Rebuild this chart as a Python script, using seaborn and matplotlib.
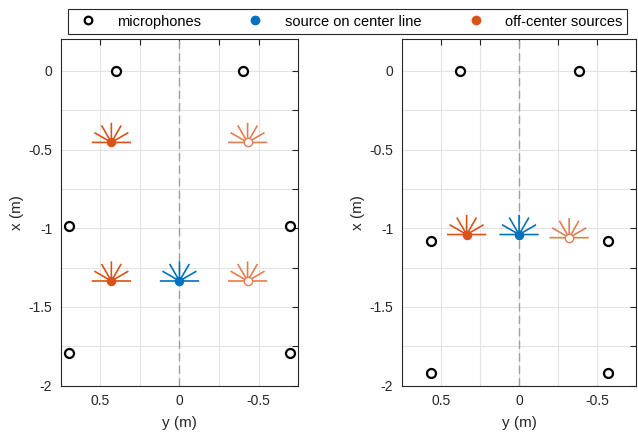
import numpy as np
import pandas as pd
import matplotlib
matplotlib.use("Agg")
import matplotlib.pyplot as plt
from matplotlib.path import Path
from matplotlib.lines import Line2D
import seaborn as sns

# positions (horizontal axis = y, vertical axis = x)
left_mic_y = [0.40, -0.40, 0.70, -0.70, 0.70, -0.70]
left_mic_x = [0.0, 0.0, -0.985, -0.985, -1.79, -1.79]
left_center_y = [0.0]
left_center_x = [-1.335]
left_off_y = [0.43, 0.43]
left_off_x = [-0.455, -1.335]
left_mirror_y = [-0.43, -0.43]
left_mirror_x = [-0.455, -1.335]

right_mic_y = [0.38, -0.38, 0.565, -0.565, 0.565, -0.565]
right_mic_x = [0.0, 0.0, -1.08, -1.08, -1.92, -1.92]
right_center_y = [0.0]
right_center_x = [-1.04]
right_off_y = [0.335]
right_off_x = [-1.04]
right_mirror_y = [-0.32]
right_mirror_x = [-1.06]

legend_labels = ["microphones", "source on center line", "off-center sources"]

blue = "#0072BD"
orange = "#D95319"
light_orange = "#E37E52"
dark = "#262626"

sns.set_style("white")
plt.rcParams["font.family"] = ["Liberation Sans", "DejaVu Sans"]
plt.rcParams["axes.unicode_minus"] = False

# half "sunburst" marker: rays at 0..180 deg
verts, codes = [], []
for a in np.deg2rad([0, 30, 60, 90, 120, 150, 180]):
    verts += [(0, 0), (np.cos(a), np.sin(a))]
    codes += [Path.MOVETO, Path.LINETO]
rays = Path(verts, codes)

fig = plt.figure(figsize=(6.38, 4.41), dpi=100)
ax1 = fig.add_axes([0.0951, 0.1254, 0.3724, 0.7855])
ax2 = fig.add_axes([0.6296, 0.1254, 0.3680, 0.7855])


def draw_panel(ax, mic_y, mic_x, cy, cx, oy, ox, my, mx):
    ax.axvline(0, color="#a0a0a0", lw=1.0, ls=(0, (6, 3)), zorder=1)
    for yy, xx, c in [(cy, cx, blue), (oy, ox, orange), (my, mx, light_orange)]:
        df = pd.DataFrame({"y": yy, "x": xx})
        sns.scatterplot(data=df, x="y", y="x", ax=ax, marker=rays, s=800,
                        facecolor="none", edgecolor=c, linewidth=1.2, zorder=3)
    sns.scatterplot(data=pd.DataFrame({"y": cy, "x": cx}), x="y", y="x", ax=ax,
                    marker="o", s=36, color=blue, edgecolor=blue, linewidth=0.8, zorder=4)
    sns.scatterplot(data=pd.DataFrame({"y": oy, "x": ox}), x="y", y="x", ax=ax,
                    marker="o", s=36, color=orange, edgecolor=orange, linewidth=0.8, zorder=4)
    sns.scatterplot(data=pd.DataFrame({"y": my, "x": mx}), x="y", y="x", ax=ax,
                    marker="o", s=36, facecolor="white", edgecolor=light_orange,
                    linewidth=1.0, zorder=4)
    sns.scatterplot(data=pd.DataFrame({"y": mic_y, "x": mic_x}), x="y", y="x", ax=ax,
                    marker="o", s=42, facecolor="white", edgecolor="black",
                    linewidth=1.6, zorder=4, clip_on=False)

    ax.set_xlim(0.75, -0.75)
    ax.set_ylim(-2, 0.2)
    xt = [0.5, 0.25, 0, -0.25, -0.5]
    ax.set_xticks(xt)
    ax.set_xticklabels(["0.5", "", "0", "", "-0.5"])
    yt = [0, -0.25, -0.5, -0.75, -1, -1.25, -1.5, -1.75, -2]
    ax.set_yticks(yt)
    ax.set_yticklabels(["0", "", "-0.5", "", "-1", "", "-1.5", "", "-2"])
    ax.grid(True, color="#e3e3e3", lw=0.8)
    ax.set_axisbelow(True)
    ax.tick_params(direction="in", length=4, width=0.8, colors=dark,
                   labelsize=10, top=True, right=True, pad=6)
    for s in ax.spines.values():
        s.set_color(dark)
        s.set_linewidth(0.8)
    ax.set_xlabel("y (m)", fontsize=11, color=dark, labelpad=6)
    ax.set_ylabel("x (m)", fontsize=11, color=dark, labelpad=3)


draw_panel(ax1, left_mic_y, left_mic_x, left_center_y, left_center_x,
           left_off_y, left_off_x, left_mirror_y, left_mirror_x)
draw_panel(ax2, right_mic_y, right_mic_x, right_center_y, right_center_x,
           right_off_y, right_off_x, right_mirror_y, right_mirror_x)

handles = [
    Line2D([], [], ls="none", marker="o", ms=5.5, mfc="white", mec="black", mew=1.6),
    Line2D([], [], ls="none", marker="o", ms=6, mfc=blue, mec=blue),
    Line2D([], [], ls="none", marker="o", ms=6, mfc=orange, mec=orange),
]
leg = fig.legend(handles, legend_labels, loc="upper center", bbox_to_anchor=(0.545, 0.995),
                 ncol=3, frameon=True, fancybox=False, fontsize=10.5,
                 columnspacing=2.75, handletextpad=1.0, borderpad=0.35,
                 edgecolor=dark, framealpha=1)
leg.get_frame().set_linewidth(0.8)
for t in leg.get_texts():
    t.set_color("black")

fig.savefig("out.png", dpi=100)
